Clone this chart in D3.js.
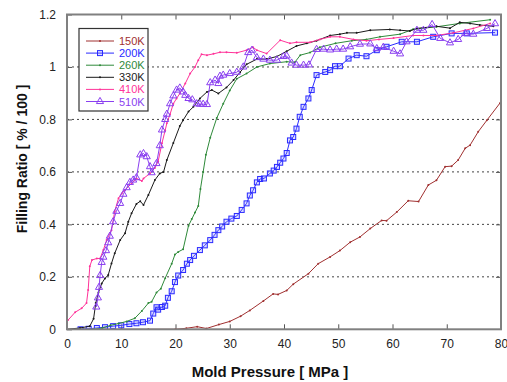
<!DOCTYPE html>
<html>
<head>
<meta charset="utf-8">
<script src="https://cdn.jsdelivr.net/npm/d3@7"></script>
<style>
  html, body { margin: 0; padding: 0; background: #fff; }
  svg { display: block; font-family: "Liberation Sans", Arial, sans-serif; }
</style>
</head>
<body>
<svg id="chart" width="507" height="382"></svg>
<script>
// Values: [pressure MPa, filling ratio]
const series150K = [[0,0],[5,0],[10,0],[15,0],[20,0],[22,0.004],[24,0.01],[25.7,0.003],[28,0.018],[30,0.03],[32,0.05],[33.7,0.072],[36.2,0.108],[38,0.135],[38.9,0.133],[40.5,0.148],[41.7,0.172],[44.5,0.212],[46.3,0.25],[48.5,0.276],[50.3,0.3],[52.2,0.332],[54,0.352],[55.9,0.384],[58,0.415],[58.9,0.414],[60.8,0.447],[62.9,0.49],[64.8,0.487],[66.6,0.55],[68.1,0.568],[69.7,0.62],[70.9,0.622],[72.1,0.645],[73.4,0.69],[74.3,0.702],[75.8,0.753],[77.4,0.797],[79.8,0.862]];

const series200K = [[2.5,0],[4,0.002],[5.5,0.005],[7,0.008],[8.5,0.012],[10,0.015],[11.5,0.02],[12.8,0.023],[14,0.027],[15.3,0.033],[15.9,0.06],[16.5,0.084],[16.8,0.075],[17.5,0.085],[18.1,0.09],[18.6,0.12],[19.3,0.145],[19.9,0.18],[20.5,0.205],[21.4,0.226],[22.1,0.25],[22.7,0.264],[23.4,0.28],[24.5,0.302],[25.4,0.32],[26.4,0.34],[27.2,0.36],[27.9,0.378],[28.6,0.392],[29.4,0.41],[30.3,0.422],[31.3,0.432],[32.2,0.455],[33.1,0.48],[33.7,0.51],[34.3,0.53],[35,0.56],[35.6,0.573],[36.3,0.575],[37.4,0.594],[38.1,0.605],[38.7,0.619],[39.3,0.635],[39.9,0.651],[40.5,0.672],[41.1,0.72],[41.7,0.733],[42.3,0.765],[42.9,0.81],[43.6,0.848],[44.5,0.88],[45.1,0.912],[46,0.969],[47.6,0.981],[48.5,0.988],[49.4,1.003],[50.3,1.003],[51.9,1.032],[53.4,1.045],[55.2,1.041],[57.1,1.064],[58.9,1.077],[61.7,1.096],[64.5,1.096],[67.5,1.115],[70.9,1.128],[73.7,1.128],[78.9,1.131]];

const series260K = [[5,0],[6.5,0.005],[8,0.015],[9.5,0.022],[11,0.03],[12.5,0.042],[13.8,0.07],[15,0.1],[15.6,0.105],[16.5,0.14],[17.3,0.155],[18.1,0.195],[19.3,0.25],[19.9,0.285],[20.5,0.295],[21.4,0.305],[22.4,0.395],[23,0.42],[23.6,0.445],[24.2,0.47],[24.6,0.535],[25.1,0.6],[25.6,0.665],[26.4,0.73],[27.6,0.805],[28.8,0.86],[30,0.91],[31.3,0.955],[33.1,0.975],[35,1.0],[37.4,1.013],[40.5,1.02],[42,1.018],[43,1.045],[44.8,1.055],[46.6,1.075],[49.5,1.09],[52.5,1.1],[55.2,1.105],[57.7,1.115],[61.4,1.125],[63.8,1.144],[68.1,1.153],[72.4,1.166],[78,1.18]];

const series330K = [[0,0],[2.4,0.005],[4.2,0.012],[4.9,0.04],[5.3,0.1],[5.8,0.14],[6.4,0.175],[7,0.194],[7.6,0.207],[8.2,0.251],[8.8,0.29],[9.8,0.34],[10.7,0.366],[11.3,0.41],[11.9,0.442],[12.8,0.478],[13.5,0.488],[14.1,0.474],[15,0.512],[16.2,0.569],[17.1,0.594],[17.8,0.6],[18.4,0.645],[19.6,0.71],[20.8,0.775],[21.4,0.797],[22.4,0.83],[23.3,0.848],[24.5,0.88],[25.8,0.905],[26.7,0.912],[27.9,0.899],[29.4,0.922],[30.7,0.95],[31.9,0.98],[33.1,1.01],[35,1.03],[36.8,1.03],[38.7,1.04],[40.5,1.06],[42.3,1.08],[44.2,1.09],[46,1.1],[48.5,1.12],[50.3,1.125],[51.6,1.13],[53.4,1.13],[55.9,1.14],[59.5,1.143],[61.4,1.14],[63.2,1.137],[64.5,1.147],[68.1,1.155],[70.6,1.148],[72.4,1.17],[74.3,1.166],[76.1,1.16],[78.6,1.155]];

const series410K = [[0.2,0.035],[1.5,0.065],[2.7,0.08],[3.6,0.1],[3.9,0.15],[4.2,0.24],[4.6,0.264],[5.5,0.27],[6.1,0.27],[6.7,0.302],[7.3,0.34],[8.2,0.378],[8.8,0.45],[9.5,0.5],[10.1,0.518],[10.7,0.531],[11.9,0.556],[12.8,0.575],[13.8,0.565],[14.1,0.575],[15.3,0.594],[16.2,0.615],[16.8,0.64],[17.5,0.709],[18.1,0.759],[18.4,0.785],[19,0.82],[19.6,0.86],[20.2,0.88],[20.8,0.899],[21.8,0.937],[22.7,0.975],[23.6,1.0],[24.2,1.026],[24.8,1.048],[25.8,1.045],[27,1.05],[28.2,1.056],[29.4,1.056],[31.3,1.054],[33.1,1.064],[34.3,1.075],[35,1.064],[36.8,1.051],[39.3,1.102],[41.1,1.09],[42.3,1.094],[44.8,1.094],[46.6,1.105],[48.5,1.115],[50.3,1.115],[52.8,1.105],[55.2,1.1],[57.5,1.105],[60.2,1.11],[63.8,1.12],[65.7,1.12],[68.1,1.12],[71.2,1.13],[74.9,1.147],[78,1.166]];

const series510K = [[5.4,0.085],[5.7,0.12],[5.9,0.16],[6.1,0.205],[6.4,0.255],[6.7,0.275],[7.2,0.3],[7.6,0.33],[7.9,0.355],[8.5,0.41],[9.1,0.45],[9.8,0.48],[10.4,0.515],[11,0.54],[11.6,0.56],[12.2,0.569],[12.8,0.578],[13.5,0.665],[14.1,0.67],[14.7,0.658],[15.3,0.62],[15.6,0.597],[16.5,0.632],[17.1,0.7],[17.5,0.76],[18.1,0.8],[18.4,0.82],[19,0.86],[19.6,0.89],[20.2,0.912],[20.8,0.92],[21.4,0.905],[21.8,0.892],[22.4,0.88],[23.1,0.875],[23.9,0.86],[24.5,0.858],[25.1,0.858],[25.8,0.857],[26.4,0.94],[27.3,0.95],[27.9,0.937],[28.2,0.965],[28.8,0.969],[30,0.975],[31.3,0.98],[32.5,1.0],[33.4,1.055],[34.1,1.064],[35,1.036],[36.2,1.03],[37.4,1.026],[38.7,1.026],[39.9,1.04],[40.5,1.042],[41.4,1.015],[42.3,1.007],[43.6,1.007],[44.6,1.008],[46,1.067],[47.3,1.068],[48.5,1.065],[49.7,1.068],[50.9,1.068],[52.2,1.077],[54,1.087],[55.9,1.088],[57.1,1.07],[58.3,1.075],[60.2,1.06],[61.4,1.05],[62.6,1.096],[64.5,1.14],[65.7,1.14],[67.3,1.162],[68.8,1.109],[70.6,1.092],[72.1,1.105],[73.4,1.128],[74.9,1.125],[77.4,1.147],[78.9,1.165]];

const xTicks = [0, 10, 20, 30, 40, 50, 60, 70, 80];
const yTicks = [0, 0.2, 0.4, 0.6, 0.8, 1, 1.2];
const xTitle = "Mold Pressure [ MPa ]";
const yTitle = "Filling Ratio [ % / 100 ]";

const seriesList = [
  { name: "150K", data: series150K, color: "#a03030", marker: "dot" },
  { name: "200K", data: series200K, color: "#2a2aff", marker: "square" },
  { name: "260K", data: series260K, color: "#2f8a3a", marker: "dot" },
  { name: "330K", data: series330K, color: "#1a1a1a", marker: "dot" },
  { name: "410K", data: series410K, color: "#ff3399", marker: "dot" },
  { name: "510K", data: series510K, color: "#8a3ff0", marker: "triangle" }
];

// Plot frame
const plot = { left: 67, right: 501, top: 14.5, bottom: 329.3 };

const svg = d3.select("#chart");

const x = d3.scaleLinear().domain([0, 80]).range([plot.left, plot.right]);
const y = d3.scaleLinear().domain([0, 1.2]).range([plot.bottom, plot.top]);

svg.append("defs").append("clipPath").attr("id", "clip")
  .append("rect")
  .attr("x", plot.left).attr("y", plot.top)
  .attr("width", plot.right - plot.left).attr("height", plot.bottom - plot.top);

// Dotted horizontal grid lines
svg.append("g")
  .selectAll("line")
  .data(yTicks.filter(d => d > 0 && d < 1.2))
  .join("line")
  .attr("x1", plot.left).attr("x2", plot.right)
  .attr("y1", d => y(d)).attr("y2", d => y(d))
  .attr("stroke", "#444")
  .attr("stroke-width", 1)
  .attr("stroke-dasharray", "2,3");

// Bottom axis (ticks point inward)
svg.append("g")
  .attr("transform", `translate(0,${plot.bottom})`)
  .call(d3.axisBottom(x).tickValues(xTicks).tickSizeInner(-5).tickSizeOuter(0).tickPadding(10).tickFormat(d3.format("d")))
  .call(g => g.select(".domain").remove())
  .call(g => g.selectAll("line").attr("stroke", "#555"))
  .call(g => g.selectAll("text").attr("font-size", 12).attr("fill", "#222").attr("font-family", "Liberation Sans, Arial, sans-serif"));

// Top ticks
svg.append("g")
  .attr("transform", `translate(0,${plot.top})`)
  .call(d3.axisTop(x).tickValues(xTicks.slice(1, -1)).tickSizeInner(-5).tickSizeOuter(0).tickFormat(""))
  .call(g => g.select(".domain").remove())
  .call(g => g.selectAll("line").attr("stroke", "#555"));

// Left axis
svg.append("g")
  .attr("transform", `translate(${plot.left},0)`)
  .call(d3.axisLeft(y).tickValues(yTicks).tickSizeInner(-5).tickSizeOuter(0).tickPadding(11).tickFormat(d => d3.format("")(+d.toFixed(1))))
  .call(g => g.select(".domain").remove())
  .call(g => g.selectAll("line").attr("stroke", "#555"))
  .call(g => g.selectAll("text").attr("font-size", 12).attr("fill", "#222").attr("font-family", "Liberation Sans, Arial, sans-serif"));

// Right ticks
svg.append("g")
  .attr("transform", `translate(${plot.right},0)`)
  .call(d3.axisRight(y).tickValues(yTicks.slice(1, -1)).tickSizeInner(-5).tickSizeOuter(0).tickFormat(""))
  .call(g => g.select(".domain").remove())
  .call(g => g.selectAll("line").attr("stroke", "#555"));

// Series
const line = d3.line().x(d => x(d[0])).y(d => y(d[1]));
const triangle = d3.symbol().type(d3.symbolTriangle).size(22);

const plotG = svg.append("g").attr("clip-path", "url(#clip)");

seriesList.forEach(s => {
  const g = plotG.append("g");
  g.append("path")
    .datum(s.data)
    .attr("fill", "none")
    .attr("stroke", s.color)
    .attr("stroke-width", 1)
    .attr("stroke-linejoin", "round")
    .attr("d", line);

  if (s.marker === "dot") {
    g.selectAll("circle").data(s.data).join("circle")
      .attr("cx", d => x(d[0])).attr("cy", d => y(d[1]))
      .attr("r", 1).attr("fill", s.color);
  } else if (s.marker === "square") {
    g.selectAll("rect").data(s.data).join("rect")
      .attr("x", d => x(d[0]) - 2.5).attr("y", d => y(d[1]) - 2.5)
      .attr("width", 5).attr("height", 5)
      .attr("fill", "rgba(120,120,255,0.25)").attr("stroke", s.color).attr("stroke-width", 1);
  } else if (s.marker === "triangle") {
    g.selectAll("path.m").data(s.data).join("path")
      .attr("class", "m")
      .attr("transform", d => `translate(${x(d[0])},${y(d[1])})`)
      .attr("d", triangle)
      .attr("fill", "none").attr("stroke", s.color).attr("stroke-width", 1);
  }
});

// Frame
svg.append("rect")
  .attr("x", plot.left).attr("y", plot.top)
  .attr("width", plot.right - plot.left).attr("height", plot.bottom - plot.top)
  .attr("fill", "none").attr("stroke", "#808080").attr("stroke-width", 2);

// Legend
const legend = svg.append("g");
legend.append("rect")
  .attr("x", 79).attr("y", 28.5).attr("width", 69).attr("height", 82.5)
  .attr("fill", "#fff").attr("stroke", "#333").attr("stroke-width", 1.2);

seriesList.forEach((s, i) => {
  const ly = 41 + i * 12.1;
  legend.append("line")
    .attr("x1", 86).attr("x2", 114).attr("y1", ly).attr("y2", ly)
    .attr("stroke", s.color).attr("stroke-width", 1);
  if (s.marker === "dot") {
    legend.append("circle").attr("cx", 100).attr("cy", ly).attr("r", 1).attr("fill", s.color);
  } else if (s.marker === "square") {
    legend.append("rect").attr("x", 97.5).attr("y", ly - 2.5).attr("width", 5).attr("height", 5)
      .attr("fill", "rgba(120,120,255,0.25)").attr("stroke", s.color);
  } else {
    legend.append("path").attr("transform", `translate(100,${ly})`).attr("d", triangle)
      .attr("fill", "none").attr("stroke", s.color);
  }
  legend.append("text")
    .attr("x", 119).attr("y", ly + 4)
    .attr("font-size", 11)
    .attr("fill", s.color)
    .text(s.name);
});

// Axis titles
svg.append("text")
  .attr("x", 270).attr("y", 377)
  .attr("text-anchor", "middle")
  .attr("font-size", 15).attr("font-weight", "bold").attr("fill", "#111")
  .text(xTitle);

svg.append("text")
  .attr("transform", "translate(27,159) rotate(-90)")
  .attr("text-anchor", "middle")
  .attr("font-size", 14).attr("font-weight", "bold").attr("fill", "#111")
  .text(yTitle);
</script>
</body>
</html>
